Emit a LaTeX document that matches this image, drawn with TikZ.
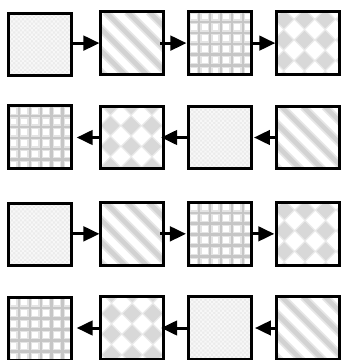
\documentclass[tikz,border=0pt]{standalone}
\usetikzlibrary{arrows.meta,calc}
\definecolor{chkbase}{HTML}{EBEBEB}
\definecolor{chklight}{HTML}{F7F7F7}
\definecolor{stripecore}{HTML}{D2D2D2}
\definecolor{stripehalo}{HTML}{E6E6E6}
\definecolor{gridcore}{HTML}{C6C6C6}
\definecolor{gridhalo}{HTML}{E4E4E4}
\definecolor{diamcore}{HTML}{D8D8D8}
\definecolor{diamhalo}{HTML}{EAEAEA}
\tikzset{
  tile/.style 2 args={draw=black, line width=3pt, anchor=north west, inner sep=0pt,
    minimum width={#1-3pt}, minimum height={#2-3pt}},
  chk/.style={path picture={
    \coordinate (nw) at (path picture bounding box.north west);
    \fill[chkbase] (path picture bounding box.north west) rectangle (path picture bounding box.south east);
    \fill[chklight, even odd rule]
      \foreach \k in {0,...,15} { ($(nw)+(0,4.4*\k)$) rectangle ++(70,2.2) }
      \foreach \k in {0,...,15} { ($(nw)+(4.4*\k,0)$) rectangle ++(2.2,70) };
  }},
  str/.style={path picture={
    \coordinate (nw) at (path picture bounding box.north west);
    \fill[white] (path picture bounding box.north west) rectangle (path picture bounding box.south east);
    \foreach \k in {-4,...,3} {
      \draw[stripehalo, line width=8pt] ($(nw)+(\k*21.7+4.5,0)$) -- ++(90,90);
      \draw[stripecore, line width=4.5pt] ($(nw)+(\k*21.7+4.5,0)$) -- ++(90,90);
    }
  }},
  grd/.style={path picture={
    \coordinate (nw) at (path picture bounding box.north west);
    \fill[white] (path picture bounding box.north west) rectangle (path picture bounding box.south east);
    \foreach \k in {0,...,6} {
      \draw[gridhalo, line width=5pt] ($(nw)+(\k*10.9-0.7,-2)$) -- ++(0,72);
      \draw[gridhalo, line width=5pt] ($(nw)+(-2,\k*10.9-0.7)$) -- ++(72,0);
    }
    \foreach \k in {0,...,6} {
      \draw[gridcore, line width=2.4pt] ($(nw)+(\k*10.9-0.7,-2)$) -- ++(0,72);
      \draw[gridcore, line width=2.4pt] ($(nw)+(-2,\k*10.9-0.7)$) -- ++(72,0);
    }
  }},
  dia/.style 2 args={path picture={
    \coordinate (nw) at (path picture bounding box.north west);
    \fill[white] (path picture bounding box.north west) rectangle (path picture bounding box.south east);
    \foreach \i in {-1,...,3} \foreach \j in {-1,...,3} {
      \fill[diamhalo] ($(nw)+(#1-1.5+20.7*\i,#2-1.5+20.7*\j)$) +(-11,0) -- +(0,-11) -- +(11,0) -- +(0,11) -- cycle;
      \fill[diamcore] ($(nw)+(#1-1.5+20.7*\i,#2-1.5+20.7*\j)$) +(-9,0) -- +(0,-9) -- +(9,0) -- +(0,9) -- cycle;
    }
  }},
  arr/.style={line width=3pt, -{Triangle[length=16pt,width=14.5pt]}},
}
\begin{document}
\begin{tikzpicture}[x=1pt,y=-1pt]
\useasboundingbox (0,0) rectangle (341,360);
\clip (0,0) rectangle (341,360);
% row 1
\node[tile={65.4pt}{64.4pt}, chk] (b11) at (7.3,12.3) {};
\node[tile={65.7pt}{65.8pt}, str] (b12) at (99.5,10.2) {};
\node[tile={65.5pt}{65.8pt}, grd] (b13) at (187.5,10.2) {};
\node[tile={65.4pt}{65.8pt}, dia={8.5}{9}] (b14) at (275.3,10.2) {};
% row 2
\node[tile={65.4pt}{65.7pt}, grd] (b21) at (7.3,104.3) {};
\node[tile={65.7pt}{65pt}, dia={11}{0}] (b22) at (99.5,105) {};
\node[tile={65.5pt}{65pt}, chk] (b23) at (187.5,105) {};
\node[tile={65.4pt}{65pt}, str] (b24) at (275.3,105) {};
% row 3
\node[tile={65.4pt}{64.7pt}, chk] (b31) at (7.3,202.3) {};
\node[tile={65.7pt}{65.7pt}, str] (b32) at (99.5,201) {};
\node[tile={65.5pt}{65.7pt}, grd] (b33) at (187.5,201) {};
\node[tile={65.4pt}{65.7pt}, dia={9}{9}] (b34) at (275.3,201) {};
% row 4
\node[tile={65.4pt}{66pt}, grd] (b41) at (7.3,296) {};
\node[tile={65.7pt}{66pt}, dia={12}{18.5}] (b42) at (99.5,295) {};
\node[tile={65.5pt}{66pt}, chk] (b43) at (187.5,295) {};
\node[tile={65.4pt}{66pt}, str] (b44) at (275.3,295) {};
% arrows row 1
\draw[arr] (b11.east |- b12.west) -- (b12.west);
\draw[arr] ([xshift=-5pt]b12.east) -- ([xshift=-1pt]b13.west);
\draw[arr] (b13.east) -- (b14.west);
% arrows row 2
\draw[arr] (b24.west) -- ([xshift=1pt]b23.east);
\draw[arr] (b23.west) -- ([xshift=-4pt]b22.east);
\draw[arr] ([xshift=1.5pt]b22.west) -- ([xshift=4pt]b21.east |- b22.west);
% arrows row 3
\draw[arr] (b31.east |- b32.west) -- (b32.west);
\draw[arr] ([xshift=-5pt]b32.east) -- ([xshift=-1.5pt]b33.west);
\draw[arr] (b33.east) -- ([xshift=-1pt]b34.west);
% arrows row 4
\draw[arr] (b44.west) -- ([xshift=2pt]b43.east);
\draw[arr] (b43.west) -- ([xshift=-4pt]b42.east);
\draw[arr] ([xshift=1.5pt]b42.west) -- ([xshift=4pt]b41.east |- b42.west);
\end{tikzpicture}
\end{document}
